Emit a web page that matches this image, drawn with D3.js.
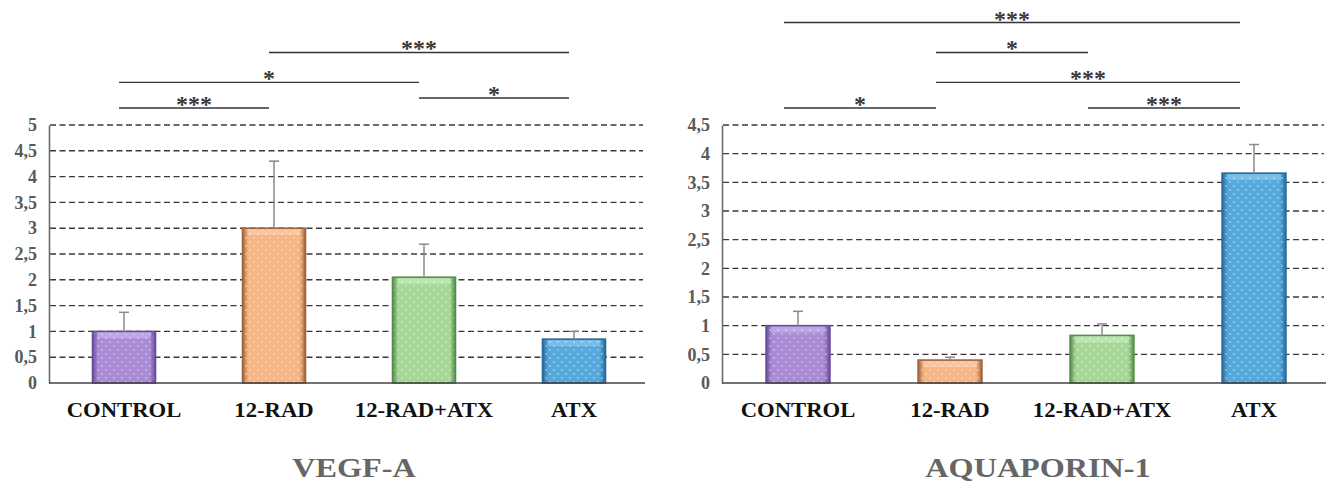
<!DOCTYPE html>
<html>
<head>
<meta charset="utf-8">
<script src="https://cdn.jsdelivr.net/npm/d3@7"></script>
<style>
  body { margin: 0; background: #fff; }
  svg { display: block; }
  text { font-family: "Liberation Serif", "Times New Roman", serif; font-weight: bold; }
</style>
</head>
<body>
<div id="chart"></div>
<script>
// groups shared by both panels
const groups = ["CONTROL", "12-RAD", "12-RAD+ATX", "ATX"];

// VEGF-A panel
const vegfMeans = [1.0, 3.0, 2.05, 0.85];
const vegfErr = [0.37, 1.3, 0.64, 0.15];
const vegfTicks = [0, 0.5, 1, 1.5, 2, 2.5, 3, 3.5, 4, 4.5, 5];
// comparisons: [from, to, stars, level]
const vegfSig = [
  [0, 1, "***", 0],
  [2, 3, "*", 0.35],
  [0, 2, "*", 0.9],
  [1, 3, "***", 1.95]
];

// AQUAPORIN-1 panel
const aqpMeans = [1.0, 0.4, 0.83, 3.66];
const aqpErr = [0.25, 0.05, 0.2, 0.5];
const aqpTicks = [0, 0.5, 1, 1.5, 2, 2.5, 3, 3.5, 4, 4.5];
const aqpSig = [
  [0, 1, "*", 0],
  [2, 3, "***", 0],
  [1, 3, "***", 0.9],
  [1, 2, "*", 1.95],
  [0, 3, "***", 3]
];

const barColors = [
  { mid: "#a98bd6", edge: "#6a4a9a", light: "#cdb9ea" },
  { mid: "#f6b584", edge: "#a0653a", light: "#f9d0b0" },
  { mid: "#a6d797", edge: "#558e4b", light: "#c9e9bf" },
  { mid: "#55a8dc", edge: "#2a6a98", light: "#94cbee" }
];

const W = 1334, H = 486;
const svg = d3.select("#chart").append("svg").attr("width", W).attr("height", H);
const defs = svg.append("defs");

// gradients + dot pattern for the bevelled bars
barColors.forEach((c, i) => {
  const g = defs.append("linearGradient").attr("id", "grad" + i)
    .attr("x1", "0%").attr("x2", "100%").attr("y1", "0%").attr("y2", "0%");
  g.append("stop").attr("offset", "0%").attr("stop-color", c.edge);
  g.append("stop").attr("offset", "9%").attr("stop-color", c.mid);
  g.append("stop").attr("offset", "91%").attr("stop-color", c.mid);
  g.append("stop").attr("offset", "100%").attr("stop-color", c.edge);
});
const pat = defs.append("pattern").attr("id", "dots")
  .attr("width", 8).attr("height", 8).attr("patternUnits", "userSpaceOnUse");
pat.append("circle").attr("cx", 2).attr("cy", 2).attr("r", 0.9).attr("fill", "#fff").attr("opacity", 0.45);
pat.append("circle").attr("cx", 6).attr("cy", 6).attr("r", 0.9).attr("fill", "#fff").attr("opacity", 0.45);

function drawPanel(opts) {
  const { left, right, top, bottom, yMax, means, errs, ticks, sig, title, titleShift, sigOffset } = opts;

  const x = d3.scaleBand().domain(groups)
    .range([left, right]).paddingInner(0.58).paddingOuter(0.29);
  const y = d3.scaleLinear().domain([0, yMax]).range([bottom, top]);
  const fmt = v => String(v).replace(".", ",");

  const g = svg.append("g");

  // dashed gridlines
  g.selectAll(".grid").data(ticks.filter(t => t > 0)).enter().append("line")
    .attr("x1", left + 1).attr("x2", right - 6)
    .attr("y1", d => y(d)).attr("y2", d => y(d))
    .attr("stroke", "#3a3a3a").attr("stroke-width", 1.4)
    .attr("stroke-dasharray", "6,3.5");

  // y axis
  const yAxis = d3.axisLeft(y).tickValues(ticks).tickFormat(fmt).tickSize(0).tickPadding(12);
  const ya = g.append("g").attr("transform", `translate(${left},0)`).call(yAxis);
  ya.select(".domain").attr("stroke", "#6b6b6b").attr("stroke-width", 1.6);
  ya.selectAll("text")
    .attr("font-size", 18).attr("fill", "#5a5a5a");

  // bars
  const bars = g.selectAll(".bar").data(means).enter().append("g");
  bars.append("rect")
    .attr("x", (d, i) => x(groups[i])).attr("width", x.bandwidth())
    .attr("y", d => y(d)).attr("height", d => y(0) - y(d))
    .attr("fill", (d, i) => `url(#grad${i})`)
    .attr("stroke", (d, i) => barColors[i].edge).attr("stroke-width", 1.6);
  bars.append("rect")
    .attr("x", (d, i) => x(groups[i]) + 5).attr("width", x.bandwidth() - 10)
    .attr("y", d => y(d) + 1).attr("height", d => Math.min(6, y(0) - y(d) - 2))
    .attr("fill", (d, i) => barColors[i].light).attr("opacity", 0.6);
  bars.append("rect")
    .attr("x", (d, i) => x(groups[i]) + 2).attr("width", x.bandwidth() - 4)
    .attr("y", d => y(d) + 2).attr("height", d => y(0) - y(d) - 3)
    .attr("fill", "url(#dots)");

  // error bars (upper only)
  const cx = i => x(groups[i]) + x.bandwidth() / 2;
  const eb = g.selectAll(".err").data(means).enter().append("g")
    .attr("stroke", "#8a8a8a").attr("stroke-width", 1.5);
  eb.append("line")
    .attr("x1", (d, i) => cx(i)).attr("x2", (d, i) => cx(i))
    .attr("y1", d => y(d)).attr("y2", (d, i) => y(d + errs[i]));
  eb.append("line")
    .attr("x1", (d, i) => cx(i) - 5).attr("x2", (d, i) => cx(i) + 5)
    .attr("y1", (d, i) => y(d + errs[i])).attr("y2", (d, i) => y(d + errs[i]));

  // baseline
  g.append("line").attr("x1", left).attr("x2", right - 4)
    .attr("y1", y(0)).attr("y2", y(0))
    .attr("stroke", "#444").attr("stroke-width", 1.6);

  // category labels (glyphs a bit wider than plain Times, as in the original)
  g.selectAll(".cat").data(groups).enter().append("text")
    .attr("transform", d => `translate(${x(d) + x.bandwidth() / 2},${bottom + 34}) scale(1.08,1)`)
    .attr("text-anchor", "middle").attr("font-size", 21)
    .attr("fill", "#111").text(d => d);

  // significance brackets
  const rowY = lvl => top - 17 - lvl * 28.5;
  const sg = g.selectAll(".sig").data(sig).enter().append("g");
  sg.append("line")
    .attr("x1", d => cx(d[0]) + sigOffset).attr("x2", d => cx(d[1]) + sigOffset)
    .attr("y1", d => rowY(d[3])).attr("y2", d => rowY(d[3]))
    .attr("stroke", "#333").attr("stroke-width", 1.4);
  sg.append("text")
    .attr("x", d => (cx(d[0]) + cx(d[1])) / 2 + sigOffset)
    .attr("y", d => rowY(d[3]) + 4)
    .attr("text-anchor", "middle").attr("font-size", 24).attr("fill", "#3a3a3a")
    .text(d => d[2]);

  // panel title
  g.append("text")
    .attr("transform", `translate(${(left + right) / 2 + titleShift},477) scale(1.15,1)`)
    .attr("text-anchor", "middle").attr("font-size", 28)
    .attr("fill", "#666").text(title);
}

drawPanel({
  left: 49, right: 649, top: 125, bottom: 383, yMax: 5,
  means: vegfMeans, errs: vegfErr, ticks: vegfTicks, sig: vegfSig,
  title: "VEGF-A", titleShift: 5, sigOffset: -5
});
drawPanel({
  left: 722, right: 1330, top: 125, bottom: 383, yMax: 4.5,
  means: aqpMeans, errs: aqpErr, ticks: aqpTicks, sig: aqpSig,
  title: "AQUAPORIN-1", titleShift: 12, sigOffset: -14
});
</script>
</body>
</html>
